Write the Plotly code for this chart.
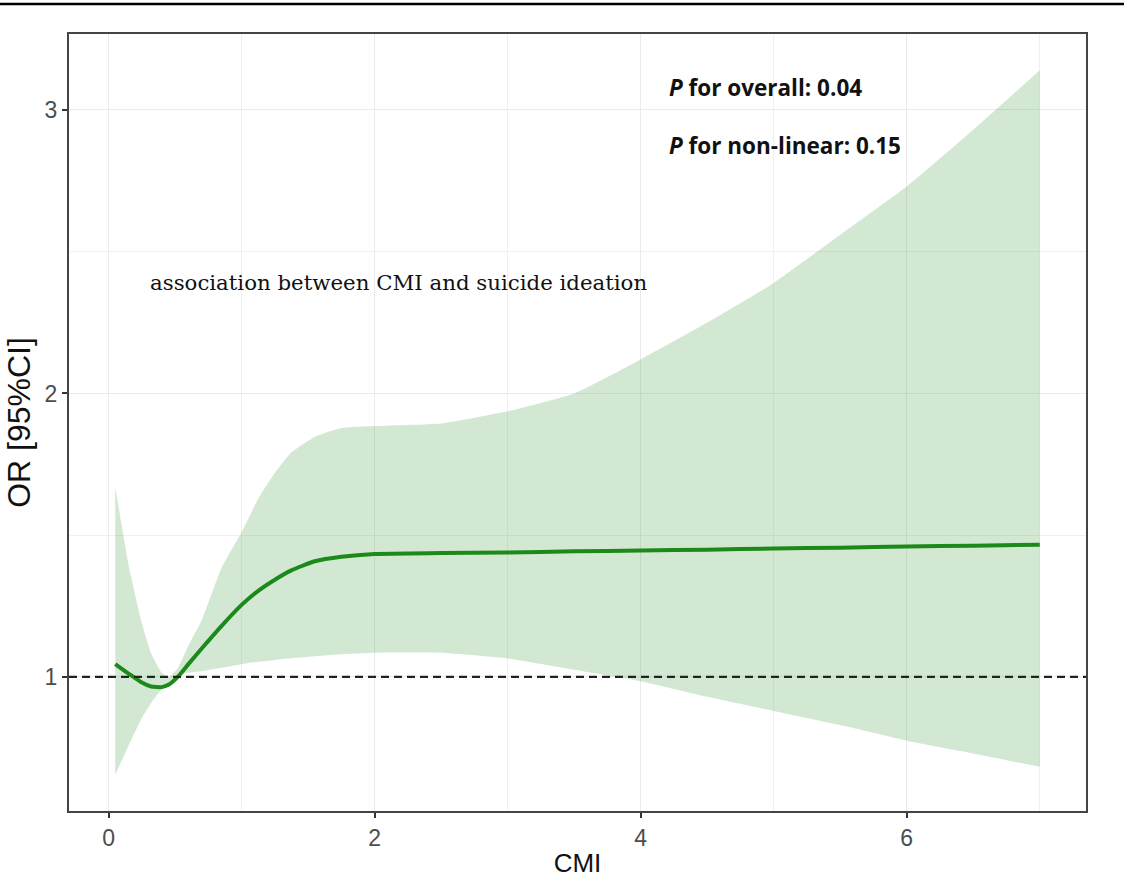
import plotly.graph_objects as go

# ---- data ----
cmi = [0.05, 0.15, 0.25, 0.32, 0.4, 0.45, 0.52, 0.6, 0.7, 0.85, 1.0, 1.12, 1.25, 1.37,
       1.55, 1.75, 2.0, 2.5, 3.0, 3.5, 4.0, 4.5, 5.0, 5.5, 6.0, 6.5, 7.0]
or_est = [1.045, 1.012, 0.98, 0.966, 0.964, 0.972, 1.0, 1.045, 1.1, 1.18, 1.254, 1.302, 1.343, 1.375,
          1.408, 1.424, 1.434, 1.437, 1.439, 1.443, 1.446, 1.449, 1.453, 1.456, 1.46, 1.463, 1.466]
ci_upper = [1.671, 1.395, 1.19, 1.083, 1.015, 1.0, 1.03, 1.11, 1.2, 1.385, 1.51, 1.624, 1.72, 1.79,
            1.847, 1.878, 1.885, 1.894, 1.937, 2.0, 2.12, 2.25, 2.39, 2.56, 2.73, 2.93, 3.14]
ci_lower = [0.654, 0.757, 0.855, 0.908, 0.957, 0.98, 1.008, 1.015, 1.02, 1.032, 1.045, 1.053, 1.06, 1.066,
            1.073, 1.08, 1.085, 1.085, 1.065, 1.025, 0.985, 0.93, 0.88, 0.83, 0.775, 0.73, 0.683]
ref_or = 1

x_ticks = [0, 2, 4, 6]
y_ticks = [1, 2, 3]

annotation_main = "association between CMI and suicide ideation"
p_overall = "<b><i>P</i> for overall: 0.04</b>"
p_nonlin = "<b><i>P</i> for non-linear: 0.15</b>"

GREEN = "#1b8a1b"
BAND = "rgba(34,139,34,0.2)"
SANS = "Liberation Sans, Arial, sans-serif"

fig = go.Figure()
fig.add_trace(go.Scatter(x=cmi, y=ci_upper, mode="lines", line=dict(width=0, shape="spline", smoothing=0.4),
                         hoverinfo="skip", showlegend=False))
fig.add_trace(go.Scatter(x=cmi, y=ci_lower, mode="lines", line=dict(width=0, shape="spline", smoothing=0.4),
                         fill="tonexty", fillcolor=BAND, hoverinfo="skip", showlegend=False))
fig.add_trace(go.Scatter(x=cmi, y=or_est, mode="lines",
                         line=dict(color=GREEN, width=4, shape="spline", smoothing=0.5), showlegend=False))

# reference line at OR = 1
fig.add_shape(type="line", xref="paper", x0=0, x1=1, yref="y", y0=ref_or, y1=ref_or,
              line=dict(color="#222222", width=2.2, dash="8px,5px"))
# black rule at the very top of the image
fig.add_shape(type="line", xref="paper", x0=-0.08, x1=1.05, yref="paper", y0=1.0386, y1=1.0386,
              line=dict(color="black", width=2.5))

fig.add_annotation(x=2.18, y=2.39, xref="x", yref="y", text=annotation_main, showarrow=False,
                   font=dict(family="DejaVu Serif", size=21.3, color="#111111"))
fig.add_annotation(x=4.2, y=3.081, xref="x", yref="y", text=p_overall, showarrow=False, xanchor="left",
                   font=dict(family="Open Sans", size=22.5, color="#111111"))
fig.add_annotation(x=4.2, y=2.873, xref="x", yref="y", text=p_nonlin, showarrow=False, xanchor="left",
                   font=dict(family="Open Sans", size=22.5, color="#111111"))

axis_common = dict(showline=True, linecolor="#444444", linewidth=2, mirror=True,
                   ticks="outside", ticklen=5, tickwidth=1.5, tickcolor="#333333",
                   showgrid=True, gridcolor="#ebebeb", gridwidth=1.2, zeroline=False,
                   tickfont=dict(family=SANS, size=23, color="#4d4d4d"))

fig.update_layout(
    width=1124, height=887,
    margin=dict(l=69, r=38, t=34, b=76),
    paper_bgcolor="white", plot_bgcolor="white",
    xaxis=dict(range=[-0.2975, 7.3475], tickvals=x_ticks,
               minor=dict(dtick=1, tick0=0, showgrid=True, gridcolor="#f0f0f0", gridwidth=0.9),
               title=dict(text="CMI", standoff=4,
                          font=dict(family=SANS, size=26, color="#111111")),
               **axis_common),
    yaxis=dict(range=[0.527, 3.268], tickvals=y_ticks,
               minor=dict(dtick=0.5, tick0=0, showgrid=True, gridcolor="#f0f0f0", gridwidth=0.9),
               title=dict(text="OR [95%CI]", standoff=4,
                          font=dict(family=SANS, size=32, color="#111111")),
               **axis_common),
)

fig.write_html("out.html", config={"displayModeBar": False},
               post_script="document.body.style.margin='0';")
